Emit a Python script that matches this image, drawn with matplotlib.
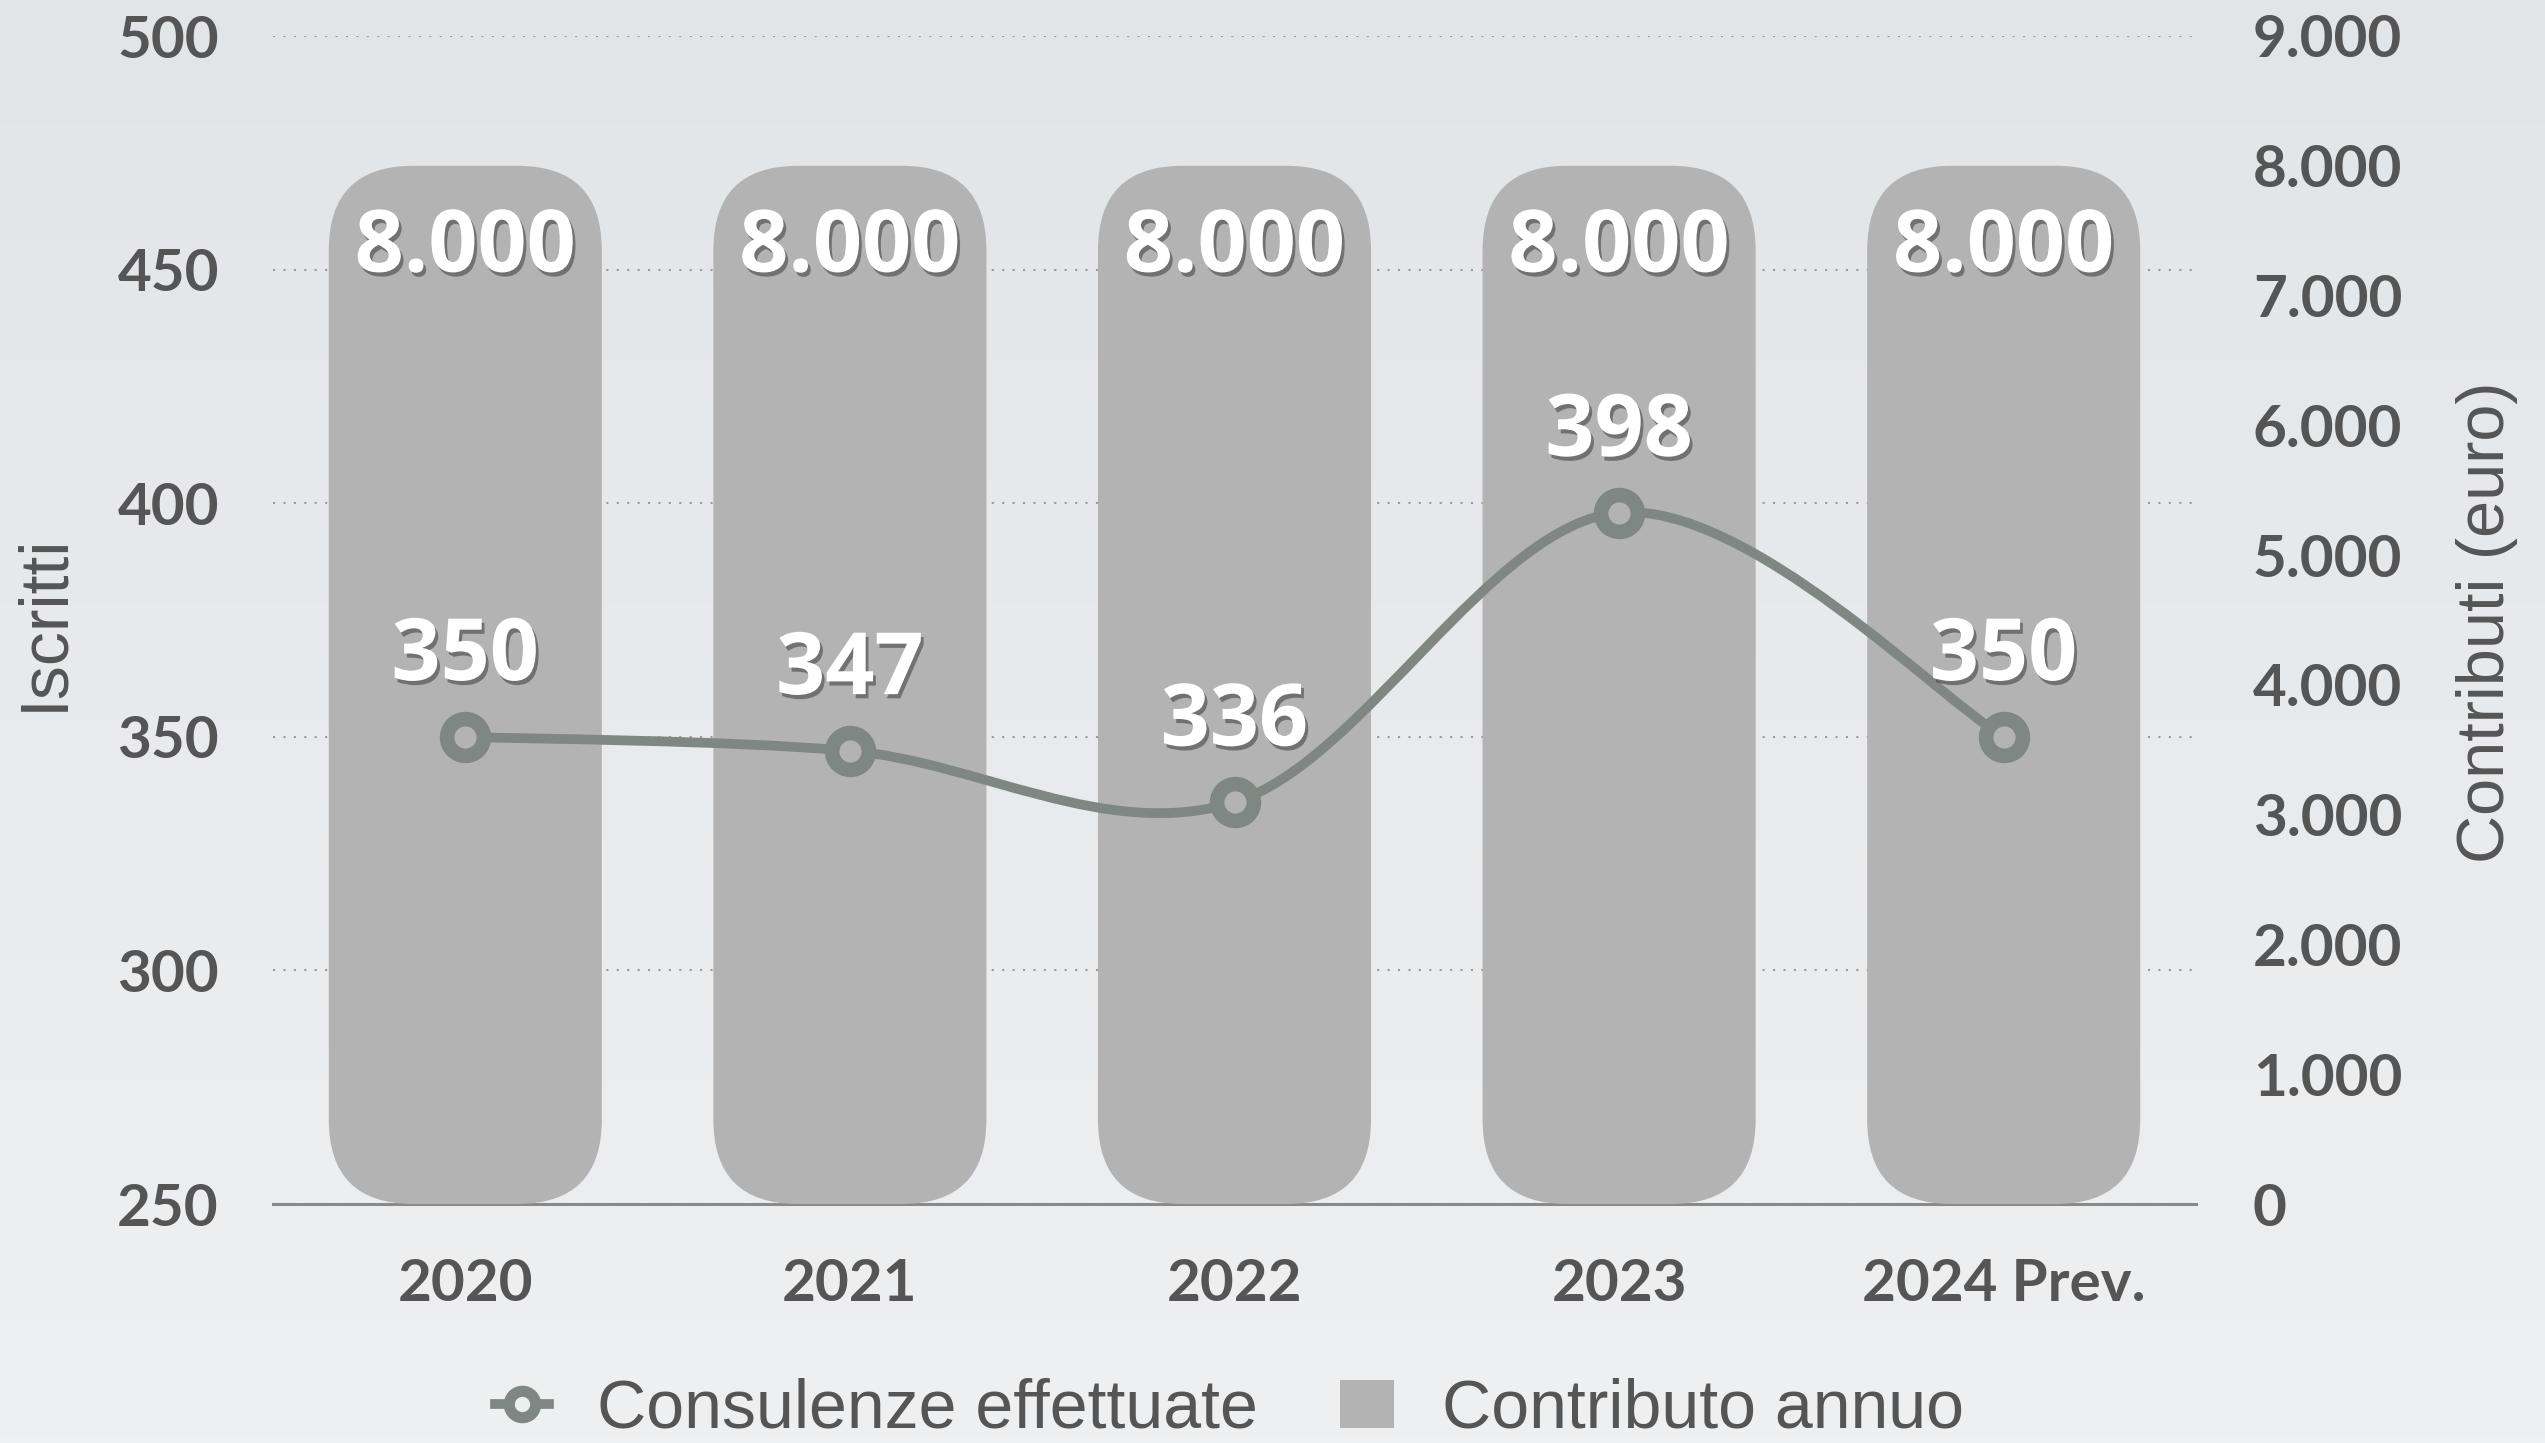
import numpy as np
import matplotlib
matplotlib.use("Agg")
import matplotlib.pyplot as plt
import matplotlib.patheffects as pe
from matplotlib.patches import FancyBboxPatch, Patch, PathPatch
from matplotlib.lines import Line2D
from matplotlib.path import Path
from matplotlib.colors import LinearSegmentedColormap

plt.rcParams['font.family'] = ['Lato', 'DejaVu Sans']

# dati
anni = ["2020", "2021", "2022", "2023", "2024 Prev."]
consulenze = [350, 347, 336, 398, 350]
contributi = [8000, 8000, 8000, 8000, 8000]
tick_sx = [250, 300, 350, 400, 450, 500]
tick_dx = [0, 1000, 2000, 3000, 4000, 5000, 6000, 7000, 8000, 9000]
tick_dx_lab = ["0", "1.000", "2.000", "3.000", "4.000", "5.000",
               "6.000", "7.000", "8.000", "9.000"]

TESTO = "#555555"
BARRA = "#b3b3b3"
LINEA = "#7f8783"
NARROW = ['Liberation Sans Narrow', 'Liberation Sans', 'DejaVu Sans']

W, H = 2545, 1443
fig = plt.figure(figsize=(W / 100, H / 100), dpi=100)

# sfondo sfumato
bg = fig.add_axes([0, 0, 1, 1], zorder=-5)
cmap = LinearSegmentedColormap.from_list("bg", ["#e2e5e8", "#eef0f2"])
bg.imshow(np.linspace(0, 1, 256).reshape(-1, 1), aspect="auto", cmap=cmap,
          extent=[0, 1, 0, 1])
bg.axis("off")

pos = [273 / W, 1 - 1204 / H, (2196 - 273) / W, (1204 - 36) / H]
ax = fig.add_axes(pos, zorder=0)
ax.set_facecolor("none")
ax2 = ax.twinx()
ax2.set_zorder(1)
ax3 = ax.twinx()
ax3.set_zorder(2)

x = np.arange(len(anni))
ax.set_xlim(-0.5, len(anni) - 0.5)
ax.set_ylim(250, 500)
ax2.set_ylim(0, 9000)
ax3.set_ylim(250, 500)

# griglia e assi
ax.set_yticks(tick_sx)
ax.yaxis.grid(True, ls=(0, (1, 4)), color="#9a9a9a", lw=1.5)
ax.set_axisbelow(True)
for s in ["top", "left", "right"]:
    ax.spines[s].set_visible(False)
ax.spines["bottom"].set_color("#8a8a8a")
ax.spines["bottom"].set_linewidth(2.2)
ax.set_xticks(x)
ax.set_xticklabels(anni)
ax.tick_params(axis="both", length=0, labelsize=42, labelcolor=TESTO)
ax.tick_params(axis="x", pad=39)
ax.tick_params(axis="y", pad=39)
for lab in ax.get_xticklabels() + ax.get_yticklabels():
    lab.set_fontweight("bold")

ax2.set_yticks(tick_dx)
ax2.set_yticklabels(tick_dx_lab)
ax2.tick_params(axis="y", length=0, labelsize=42, labelcolor=TESTO, pad=41)
for lab in ax2.get_yticklabels():
    lab.set_fontweight("bold")
for a in (ax2, ax3):
    for s in a.spines.values():
        s.set_visible(False)
ax3.set_yticks([])

# barre arrotondate
wpx = pos[2] * W
hpx = pos[3] * H
aspect = (9000 / hpx) / (len(anni) / wpx)
bars = ax2.bar(x, contributi, width=0.71, color=BARRA)
for r in bars:
    x0, y0, bw, bh = r.get_x(), r.get_y(), r.get_width(), r.get_height()
    r.remove()
    ax2.add_patch(FancyBboxPatch((x0, y0), bw, bh,
                                 boxstyle="round,pad=0,rounding_size=0.22",
                                 mutation_aspect=aspect, fc=BARRA, ec="none"))

shadow = [pe.withSimplePatchShadow(offset=(2, -3), shadow_rgbFace="#222222", alpha=0.45)]
for i, v in enumerate(contributi):
    ax2.annotate(f"{v:,}".replace(",", "."), (i, v), xytext=(0, -60),
                 textcoords="offset points", ha="center", va="center",
                 fontsize=62, fontweight="bold", color="white",
                 family=['Open Sans', 'DejaVu Sans'], path_effects=shadow)

# linea curva (Bezier Catmull-Rom)
pts = np.column_stack([x, consulenze]).astype(float)
ext = np.vstack([pts[0], pts, pts[-1]])
verts = [tuple(pts[0])]
codes = [Path.MOVETO]
for i in range(len(pts) - 1):
    p0, p1, p2, p3 = ext[i], ext[i + 1], ext[i + 2], ext[i + 3]
    c1 = p1 + (p2 - p0) / 6
    c2 = p2 - (p3 - p1) / 6
    verts += [tuple(c1), tuple(c2), tuple(p2)]
    codes += [Path.CURVE4] * 3
ax3.add_patch(PathPatch(Path(verts, codes), fill=False, ec=LINEA, lw=7,
                        capstyle="round"))
ax3.plot(x, consulenze, ls="none", marker="o", ms=26.5, mfc=BARRA,
         mec=LINEA, mew=10.5)
for i, v in enumerate(consulenze):
    ax3.annotate(str(v), (i, v), xytext=(0, 57), textcoords="offset points",
                 ha="center", va="center", fontsize=62, fontweight="bold",
                 color="white", family=['Open Sans', 'DejaVu Sans'],
                 path_effects=shadow)

# titoli assi
fig.text(44 / W, 1 - 622 / H, "Iscritti", rotation=90, ha="center", va="center",
         fontsize=49, color=TESTO, family=NARROW)
fig.text(2487 / W, 1 - 622 / H, "Contributi (euro)", rotation=90, ha="center",
         va="center", fontsize=48, color=TESTO, family=NARROW)

# legenda
handles = [Line2D([], [], color=LINEA, lw=7, marker="o", ms=19, mfc="#eceef0",
                  mew=8),
           Patch(fc=BARRA, ec="none")]
fig.legend(handles, ["Consulenze effettuate", "Contributo annuo"], loc="center",
           bbox_to_anchor=(0.483, 1 - 1410 / H), ncol=2, frameon=False,
           prop={"family": NARROW, "size": 49}, labelcolor=TESTO,
           handlelength=0.8, handletextpad=0.7, columnspacing=1.2)

plt.savefig("out.png", dpi=100, facecolor=fig.get_facecolor())
